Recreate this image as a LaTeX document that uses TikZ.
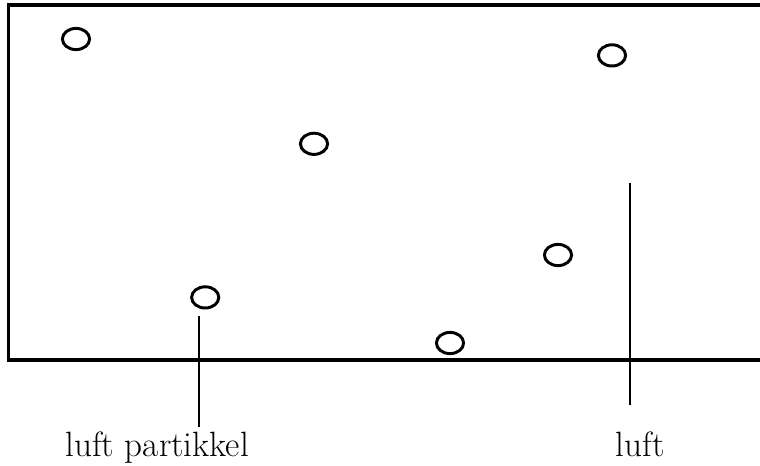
\documentclass[tikz,border=0pt]{standalone}
\usepackage{tikz}
\usetikzlibrary{shapes.geometric}

\begin{document}
\begin{tikzpicture}[
    wall/.style = {line width = 2.2pt},
    pointer/.style = {line width = 1.5pt},
    particle/.style = {ellipse, draw, line width = 2.1pt, inner sep = 0pt,
                       minimum width = 0.68cm, minimum height = 0.53cm},
    caption/.style = {anchor = base, font = \fontsize{25}{30}\selectfont}
]
%\draw[very thin, color = gray](0, 0) grid (19, 11.625);
\useasboundingbox (0, 0) rectangle (19, 11.625);
% open box, right side goes off the edge
\draw [wall] (19, 11.5) -- (0.21, 11.5) -- (0.21, 2.625) -- (19, 2.625);
% air particles
\node [particle] (p1) at (1.9, 10.65) {};
\node [particle] (p2) at (15.3, 10.24) {};
\node [particle] (p3) at (7.85, 8.03) {};
\node [particle] (p4) at (13.95, 5.25) {};
\node [particle] (p5) at (5.13, 4.19) {};
\node [particle] (p6) at (11.25, 3.05) {};
% labels
\node [caption] (partlabel) at (3.93, 0.22) {luft partikkel};
\node [caption] (luftlabel) at (16.0, 0.22) {luft};
\coordinate (parttop) at (4.975, 3.72);
\coordinate (partfoot) at (4.975, 0.95);
\coordinate (lufttop) at (15.75, 7.05);
\coordinate (luftfoot) at (15.75, 1.5);
\draw [pointer] (parttop) -- (partfoot);
\draw [pointer] (lufttop) -- (luftfoot);
\end{tikzpicture}
\end{document}
